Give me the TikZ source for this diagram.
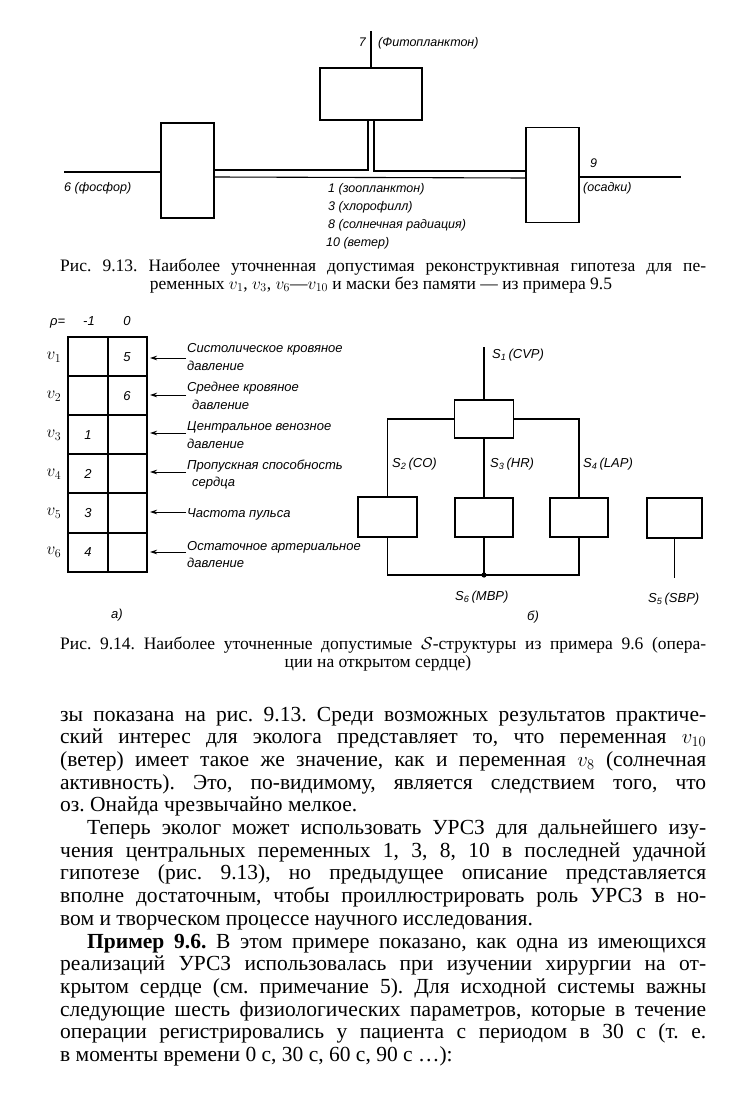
\documentclass[tikz,border=0pt]{standalone}
\usepackage{fontspec}
\setmainfont{Liberation Serif}
\newfontfamily\lab{Liberation Sans}
\usetikzlibrary{arrows.meta}
\tikzset{
  ln/.style={line width=1.1pt},
  box/.style={draw, line width=1.3pt, inner sep=0pt, outer sep=0pt},
  lbl/.style={font=\lab\itshape\fontsize{12.5}{14}\selectfont, inner sep=0pt, anchor=base west},
  lblb/.style={font=\lab\itshape\fontsize{13}{15}\selectfont, inner sep=0pt, anchor=base west},
  body/.style={font=\fontsize{21.5}{22}\selectfont, inner sep=0pt, anchor=base west},
  captxt/.style={font=\fontsize{17.5}{18}\selectfont, inner sep=0pt},
  arr/.style={line width=0.9pt, -{Stealth[length=7pt,width=4.5pt]}, shorten >=3pt}
}
\newcommand{\jline}[1]{\makebox[646pt][s]{#1}}
\begin{document}
\frenchspacing
\begin{tikzpicture}[x=1pt,y=-1pt]
\useasboundingbox (0,0) rectangle (738,1107);
\fill[white] (0,0) rectangle (738,1107);

% ---------------- Fig. 9.13 ----------------
\node[box, minimum width=102pt, minimum height=52pt] (C) at (371,94) {};
\node[box, minimum width=53pt, minimum height=95pt] (L) at (187.5,170.5) {};
\node[box, minimum width=53pt, minimum height=95pt] (R) at (552.5,175) {};
\coordinate (t7) at (371,31);
\coordinate (f6) at (64,172);
\coordinate (o9) at (681,177);
\draw[ln] (t7) -- (C.north);
\draw[ln] (f6) -- (f6 -| L.west);
\draw[ln] ([xshift=-3pt]C.south) |- (L.east |- 0,170);
\draw[ln] ([xshift=3pt]C.south) |- (R.west |- 0,171);
\draw[ln] (L.east |- 0,177) -- (R.west |- 0,178);
\draw[ln] (R.east |- 0,177) -- (o9);

\node[lbl, anchor=base east] (n7) at (366,47) {7};
\node[lbl] (n7t) at (378,47) {(Фитопланктон)};
\node[lbl] (n6) at (64,192) {6 (фосфор)};
\node[lbl] (n1) at (328,193) {1 (зоопланктон)};
\node[lbl] (n3) at (328,211) {3 (хлорофилл)};
\node[lbl] (n8) at (328,229) {8 (солнечная радиация)};
\node[lbl] (n10) at (326,247) {10 (ветер)};
\node[lbl] (n9) at (590,168) {9};
\node[lbl] (n9t) at (583,192) {(осадки)};

\node[captxt, anchor=base west] (cap1a) at (60,271) {\makebox[646pt][s]{Рис. 9.13. Наиболее уточненная допустимая реконструктивная гипотеза для пе-}};
\node[captxt, anchor=base] (cap1b) at (381,289) {ременных $v_1$, $v_3$, $v_6$—$v_{10}$ и маски без памяти — из примера 9.5};

% ---------------- Fig. 9.14 a ----------------
\node[lblb] (rho) at (50,325) {ρ=};
\node[lblb, anchor=base] (m1) at (89,325) {-1};
\node[lblb, anchor=base] (z0) at (127,325) {0};
\node[box, minimum width=79pt, minimum height=235pt] (tab) at (107.5,454.5) {};
\draw[ln] (108,337) -- (108,572);
\foreach \yy in {376,415,454,493,533} \draw[ln] (68,\yy) -- (147,\yy);

\foreach \i/\yy in {1/357,2/396,3/435,4/474,5/513,6/552}
  \node[font=\fontsize{18}{18}\selectfont, inner sep=0pt] (v\i) at (54,\yy) {$v_{\i}$};
\node[lblb, anchor=center] (c5) at (127,357) {5};
\node[lblb, anchor=center] (c6) at (127,396) {6};
\node[lblb, anchor=center] (c1) at (88,435) {1};
\node[lblb, anchor=center] (c2) at (88,474) {2};
\node[lblb, anchor=center] (c3) at (88,513) {3};
\node[lblb, anchor=center] (c4) at (88,552) {4};

\node[lblb] (d1a) at (187,352) {Систолическое кровяное};
\node[lblb] (d1b) at (187,370) {давление};
\node[lblb] (d2a) at (187,391) {Среднее кровяное};
\node[lblb] (d2b) at (192,409) {давление};
\node[lblb] (d3a) at (187,430) {Центральное венозное};
\node[lblb] (d3b) at (187,448) {давление};
\node[lblb] (d4a) at (187,469) {Пропускная способность};
\node[lblb] (d4b) at (192,486) {сердца};
\node[lblb] (d5a) at (187,517) {Частота пульса};
\node[lblb] (d6a) at (187,550) {Остаточное артериальное};
\node[lblb] (d6b) at (187,567) {давление};

\foreach \i/\yy in {1/358,2/395,3/433,4/472,5/512,6/552} {
  \coordinate (a\i) at (186,\yy);
  \draw[arr] (a\i) -- (a\i -| tab.east);
}
\node[lblb] (pa) at (111,618) {а)};

% ---------------- Fig. 9.14 b ----------------
\node[box, minimum width=59pt, minimum height=38pt] (T) at (484,419) {};
\node[box, minimum width=59pt, minimum height=40pt] (B2) at (387.5,517) {};
\node[box, minimum width=58pt, minimum height=39pt] (B3) at (484,517.5) {};
\node[box, minimum width=58pt, minimum height=39pt] (B4) at (579,517.5) {};
\node[box, minimum width=55pt, minimum height=40pt] (B5) at (674.5,518) {};
\coordinate (s1) at (484,347);
\coordinate (s6) at (484,575);
\coordinate (s5) at (674.5,578);
\draw[ln] (s1) -- (T.north);
\draw[ln] (T.west) -| (B2.north);
\draw[ln] (T.east) -| (B4.north);
\draw[ln] (T.south) -- (B3.north);
\draw[ln] (B2.south) |- (s6) -| (B4.south);
\draw[ln] (B3.south) -- (s6);
\fill (s6) circle (2.6pt);
\draw[ln] (B5.south) -- (s5);

\node[lblb] (ls1) at (492,358) {S\textsubscript{1}\,(CVP)};
\node[lblb] (ls2) at (392,467) {S\textsubscript{2}\,(CO)};
\node[lblb] (ls3) at (490,467) {S\textsubscript{3}\,(HR)};
\node[lblb] (ls4) at (583,467) {S\textsubscript{4}\,(LAP)};
\node[lblb] (ls6) at (455,600) {S\textsubscript{6}\,(MBP)};
\node[lblb] (ls5) at (648,602) {S\textsubscript{5}\,(SBP)};
\node[lblb] (pb) at (527,620) {б)};

\node[captxt, anchor=base west] (cap2a) at (60,649) {\makebox[646pt][s]{Рис. 9.14. Наиболее уточненные допустимые $\mathcal{S}$-структуры из примера 9.6 (опера-}};
\node[captxt, anchor=base] (cap2b) at (378,667) {ции на открытом сердце)};

% ---------------- Body text ----------------
\node[body] (b1) at (60,721) {\jline{зы показана на рис. 9.13. Среди возможных результатов практиче-}};
\node[body] (b2) at (60,743.7) {\jline{ский интерес для эколога представляет то, что переменная $v_{10}$}};
\node[body] (b3) at (60,766.4) {\jline{(ветер) имеет такое же значение, как и переменная $v_8$ (солнечная}};
\node[body] (b4) at (60,789.1) {\jline{активность). Это, по-видимому, является следствием того, что}};
\node[body] (b5) at (60,811.8) {оз. Онайда чрезвычайно мелкое.};
\node[body] (b6) at (87,834.5) {\makebox[619pt][s]{Теперь эколог может использовать УРСЗ для дальнейшего изу-}};
\node[body] (b7) at (60,857.2) {\jline{чения центральных переменных 1, 3, 8, 10 в последней удачной}};
\node[body] (b8) at (60,879.9) {\jline{гипотезе (рис. 9.13), но предыдущее описание представляется}};
\node[body] (b9) at (60,902.6) {\jline{вполне достаточным, чтобы проиллюстрировать роль УРСЗ в но-}};
\node[body] (b10) at (60,925.3) {вом и творческом процессе научного исследования.};
\node[body] (b11) at (87,948) {\makebox[619pt][s]{\textbf{Пример 9.6.} В этом примере показано, как одна из имеющихся}};
\node[body] (b12) at (60,970.7) {\jline{реализаций УРСЗ использовалась при изучении хирургии на от-}};
\node[body] (b13) at (60,993.4) {\jline{крытом сердце (см. примечание 5). Для исходной системы важны}};
\node[body] (b14) at (60,1016.1) {\jline{следующие шесть физиологических параметров, которые в течение}};
\node[body] (b15) at (60,1038.8) {\jline{операции регистрировались у пациента с периодом в 30 с (т. е.}};
\node[body] (b16) at (60,1061.5) {в моменты времени 0 с, 30 с, 60 с, 90 с \dots):};
\end{tikzpicture}
\end{document}
